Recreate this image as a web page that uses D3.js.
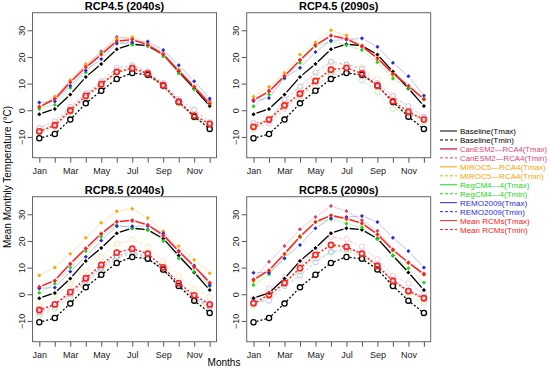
<html><head>
<script src="https://d3js.org/d3.v7.min.js"></script>
<style>
  body { margin: 0; background: #fff; }
  text { font-family: "Liberation Sans", Arial, sans-serif; }
</style>
</head>
<body>
<script>

// months and panels
var months = ["Jan","Feb","Mar","Apr","May","Jun","Jul","Aug","Sep","Oct","Nov","Dec"];
var panelTitles = ["RCP4.5 (2040s)", "RCP4.5 (2090s)", "RCP8.5 (2040s)", "RCP8.5 (2090s)"];
var yTicks = [-10, 0, 10, 20, 30];

// baseline (same in every panel)
var baseMax = [-1.5, 0.5, 5.9, 12.5, 17.4, 22.9, 24.8, 24.2, 20.9, 14.5, 8.2, 1.6];
var baseMin = [-10.5, -8.9, -3.5, 2.6, 7.3, 11.7, 14.0, 13.3, 9.3, 3.1, -2.4, -7.0];

// one row per panel: 4.5/2040s, 4.5/2090s, 8.5/2040s, 8.5/2090s
var canMax = [
  [1.3, 4.6, 11.2, 16.8, 22.1, 27.5, 26.8, 24.9, 21.5, 15.2, 8.8, 3.6],
  [4.0, 7.5, 13.0, 19.0, 24.6, 28.0, 26.8, 23.8, 19.0, 13.4, 9.0, 4.0],
  [2.5, 5.0, 11.2, 17.2, 22.5, 27.2, 27.5, 26.0, 21.9, 15.9, 10.0, 4.0],
  [5.6, 12.2, 18.1, 24.4, 29.0, 33.1, 31.2, 27.8, 23.8, 16.9, 11.9, 7.8]];
var canMin = [
  [-8.5, -6.3, -0.9, 4.8, 9.3, 14.2, 15.3, 13.0, 8.8, 2.8, -2.6, -5.5],
  [-6.6, -5.0, 0.5, 5.5, 9.0, 13.4, 14.2, 12.8, 8.8, 2.8, -1.6, -2.9],
  [-7.2, -5.0, -0.2, 5.0, 9.8, 14.0, 15.6, 13.5, 9.0, 3.5, -1.5, -4.8],
  [-1.6, 2.2, 6.5, 12.0, 16.0, 21.5, 20.6, 17.9, 13.1, 6.9, 4.1, 0.3]];
var mirMax = [
  [1.5, 5.2, 11.2, 17.4, 21.5, 26.8, 27.5, 25.2, 21.2, 15.2, 9.0, 3.0],
  [5.2, 8.8, 14.1, 20.9, 25.5, 30.0, 28.1, 24.2, 19.2, 13.0, 8.8, 4.2],
  [7.1, 10.0, 15.2, 21.2, 26.8, 31.1, 32.1, 28.6, 23.6, 18.1, 12.9, 7.9],
  [4.9, 8.6, 14.8, 21.4, 27.2, 29.4, 28.0, 26.4, 22.2, 16.4, 11.6, 7.3]];
var mirMin = [
  [-7.5, -5.2, 0.5, 5.8, 10.2, 15.0, 16.4, 14.0, 9.6, 3.5, -1.5, -4.8],
  [-5.4, -2.9, 2.8, 7.8, 12.8, 17.1, 17.1, 16.2, 11.8, 5.9, 0.2, -3.5],
  [-4.4, -0.6, 3.8, 8.8, 14.0, 18.9, 20.5, 17.8, 12.5, 7.0, 2.2, -1.0],
  [-3.8, -0.8, 4.0, 9.5, 14.5, 18.0, 17.0, 14.5, 10.0, 4.5, 0.6, -2.0]];
var regMax = [
  [0.5, 2.1, 8.4, 14.2, 21.5, 25.5, 24.6, 24.1, 20.2, 13.8, 7.8, 2.4],
  [1.5, 5.9, 11.9, 17.8, 24.0, 25.8, 24.4, 22.6, 18.0, 11.9, 8.4, 4.0],
  [0.6, 4.0, 10.0, 16.2, 21.6, 25.9, 24.8, 24.1, 20.0, 13.5, 8.5, 3.1],
  [3.5, 7.5, 13.5, 21.9, 27.1, 28.1, 26.5, 25.0, 20.6, 14.6, 9.8, 4.4]];
var regMin = [
  [-8.2, -6.0, -0.8, 4.9, 9.2, 14.0, 15.5, 13.4, 9.0, 2.5, -2.9, -5.8],
  [-7.2, -3.5, 1.1, 5.0, 10.6, 14.0, 15.2, 11.2, 6.9, 0.5, -1.0, -4.4],
  [-8.1, -5.6, -1.0, 4.4, 9.0, 13.5, 15.2, 13.1, 8.8, 3.1, -1.9, -5.0],
  [-4.4, -0.6, 3.8, 8.8, 13.5, 15.6, 16.2, 14.0, 9.4, 3.1, -1.0, -3.1]];
var remMax = [
  [2.9, 3.4, 9.2, 14.9, 19.2, 25.0, 25.5, 25.8, 22.6, 16.9, 10.9, 4.4],
  [3.5, 4.6, 12.1, 15.9, 21.9, 26.2, 26.5, 27.0, 23.8, 17.8, 12.8, 5.5],
  [2.2, 2.5, 8.5, 14.1, 20.2, 25.5, 25.5, 25.6, 22.9, 16.2, 10.8, 3.4],
  [8.1, 8.1, 13.5, 18.5, 24.8, 28.5, 29.0, 29.4, 27.1, 21.2, 16.2, 10.0]];
var remMin = [
  [-6.6, -4.2, 1.2, 6.4, 10.9, 15.9, 16.9, 14.6, 10.2, 4.2, 0.2, -4.5],
  [-4.8, -4.1, 4.0, 8.8, 14.1, 18.2, 17.1, 15.5, 10.2, 5.2, 1.5, -2.5],
  [-6.6, -4.0, 0.2, 5.2, 10.0, 14.4, 16.2, 13.8, 9.1, 3.8, -1.2, -4.4],
  [-3.0, -2.4, 3.0, 7.0, 12.0, 16.0, 17.0, 15.5, 11.0, 5.5, 1.5, -1.0]];
var meanMax = [
  [1.2, 4.2, 10.5, 16.1, 20.9, 26.0, 26.5, 24.5, 20.9, 14.8, 8.8, 2.5],
  [3.8, 7.0, 12.8, 18.8, 24.4, 28.0, 26.8, 24.0, 19.6, 13.8, 9.2, 4.2],
  [2.8, 5.2, 11.5, 17.2, 22.8, 27.2, 27.8, 26.0, 22.2, 16.2, 10.5, 4.4],
  [5.4, 9.0, 15.2, 21.6, 27.1, 29.6, 28.4, 26.6, 22.5, 16.6, 11.9, 7.5]];
var meanMin = [
  [-7.9, -5.6, -0.1, 5.4, 9.8, 14.4, 15.8, 13.8, 9.4, 3.2, -2.0, -5.1],
  [-6.2, -3.5, 1.8, 6.2, 11.0, 15.2, 15.9, 13.8, 9.2, 3.4, -0.6, -3.5],
  [-5.9, -3.8, 0.8, 6.0, 11.0, 15.6, 17.1, 15.2, 10.1, 4.2, -0.4, -3.8],
  [-3.4, -0.2, 4.2, 9.8, 14.8, 18.5, 17.8, 15.2, 10.6, 5.0, 1.2, -1.5]];

var colCan = "#dd3f78", colMir = "#ffa500", colReg = "#1ed61e", colRem = "#2b2bdd", colMean = "#ff2020";

let width = 550, height = 371;
let svg = d3.select("body").append("svg").attr("width", width).attr("height", height);

let panelW = 184, panelH = 145;
let lefts = [32.5, 246.7], tops = [12.7, 196.7];

// R style type="b": line segments with a gap around each point
function drawB(g, x, y, vals, color, lw, dash, opacity) {
  let gap = 3.2;
  for (let i = 0; i < vals.length - 1; i++) {
    let x1 = x(i + 1), y1 = y(vals[i]), x2 = x(i + 2), y2 = y(vals[i + 1]);
    let len = Math.hypot(x2 - x1, y2 - y1);
    if (len <= 2 * gap) continue;
    let ux = (x2 - x1) / len, uy = (y2 - y1) / len;
    g.append("line")
      .attr("x1", x1 + ux * gap).attr("y1", y1 + uy * gap)
      .attr("x2", x2 - ux * gap).attr("y2", y2 - uy * gap)
      .attr("stroke", color).attr("stroke-width", lw)
      .attr("stroke-opacity", opacity)
      .attr("stroke-dasharray", dash);
  }
}

function drawStars(g, x, y, vals, color) {
  vals.forEach(function(v, i) {
    let s = g.append("g").attr("transform", "translate(" + x(i + 1) + "," + y(v) + ")");
    s.append("circle").attr("r", 1.5).attr("fill", color);
    s.append("path").attr("d", "M-1.9,0H1.9M0,-1.9V1.9")
      .attr("stroke", color).attr("stroke-width", 0.8);
  });
}

function drawRings(g, x, y, vals, color, lw, opacity) {
  vals.forEach(function(v, i) {
    g.append("circle").attr("cx", x(i + 1)).attr("cy", y(v)).attr("r", 2.6)
      .attr("fill", "none").attr("stroke", color).attr("stroke-width", lw).attr("stroke-opacity", opacity);
  });
}

panelTitles.forEach(function(title, p) {
  let left = lefts[p % 2], top = tops[Math.floor(p / 2)];
  let x = d3.scaleLinear().domain([0.56, 12.44]).range([left, left + panelW]);
  let y = d3.scaleLinear().domain([-17.8, 36.6]).range([top + panelH, top]);
  let g = svg.append("g");

  // axes
  let yAxis = d3.axisLeft(y).tickValues(yTicks).tickSize(5).tickPadding(3);
  let ya = svg.append("g").attr("transform", "translate(" + left + ",0)").call(yAxis);
  ya.select(".domain").remove();
  ya.selectAll(".tick line").attr("stroke", "#555");
  ya.selectAll(".tick text")
    .attr("font-size", 9).attr("fill", "#222")
    .attr("text-anchor", "middle").attr("dy", 0)
    .attr("transform", "translate(-8,0) rotate(-90)")
    .attr("x", 0).attr("y", 0);

  let xAxis = d3.axisBottom(x).tickValues(d3.range(1, 13)).tickSize(5).tickPadding(5)
    .tickFormat(function(d) { return d % 2 == 1 ? months[d - 1] : ""; });
  let xa = svg.append("g").attr("transform", "translate(0," + (top + panelH) + ")").call(xAxis);
  xa.select(".domain").remove();
  xa.selectAll(".tick line").attr("stroke", "#555");
  xa.selectAll(".tick text").attr("font-size", 9).attr("fill", "#222");

  // frame
  svg.append("rect").attr("x", left).attr("y", top).attr("width", panelW).attr("height", panelH)
    .attr("fill", "none").attr("stroke", "#666").attr("stroke-width", 1);

  svg.append("text").attr("x", left + panelW / 2).attr("y", top - 3)
    .attr("text-anchor", "middle").attr("font-size", 11).attr("font-weight", "bold")
    .text(title);

  // models, faded lines
  let models = [[canMax, canMin, colCan], [mirMax, mirMin, colMir], [regMax, regMin, colReg], [remMax, remMin, colRem]];
  models.forEach(function(m) {
    drawB(g, x, y, m[0][p], m[2], 1, null, 0.3);
    drawB(g, x, y, m[1][p], m[2], 1, "3,2", 0.3);
  });
  models.forEach(function(m) {
    drawRings(g, x, y, m[1][p], m[2], 0.9, 0.3);
  });

  // baseline
  drawB(g, x, y, baseMax, "#000", 1.3, null, 1);
  drawB(g, x, y, baseMin, "#000", 1.3, "2,2", 1);
  drawRings(g, x, y, baseMin, "#000", 1.3, 1);
  drawStars(g, x, y, baseMax, "#000");

  models.forEach(function(m) {
    drawStars(g, x, y, m[0][p], m[2]);
  });

  // mean of RCMs
  drawB(g, x, y, meanMax[p], colMean, 1.5, null, 1);
  drawB(g, x, y, meanMin[p], colMean, 1.5, "2,2", 1);
  drawRings(g, x, y, meanMin[p], colMean, 1.6, 1);
  drawStars(g, x, y, meanMax[p], colMean);
});

// axis titles
svg.append("text").attr("transform", "translate(11,177) rotate(-90)")
  .attr("text-anchor", "middle").attr("font-size", 10).text("Mean Monthly Temperature (°C)");
svg.append("text").attr("x", 224).attr("y", 366)
  .attr("text-anchor", "middle").attr("font-size", 10).text("Months");

// legend
var legendLabels = ["Baseline(Tmax)", "Baseline(Tmin)", "CanESM2\u2014RCA4(Tmax)", "CanESM2\u2014RCA4(Tmin)",
  "MIROC5\u2014RCA4(Tmax)", "MIROC5\u2014RCA4(Tmin)", "RegCM4\u20144(Tmax)", "RegCM4\u20144(Tmin)",
  "REMO2009(Tmax)", "REMO2009(Tmin)", "Mean RCMs(Tmax)", "Mean RCMs(Tmin)"];
var legendColors = ["#000", "#000", colCan, colCan, colMir, colMir, colReg, colReg, colRem, colRem, colMean, colMean];

legendLabels.forEach(function(lab, i) {
  let ly = 131 + i * 8.96;
  svg.append("line").attr("x1", 440).attr("x2", 457).attr("y1", ly).attr("y2", ly)
    .attr("stroke", legendColors[i]).attr("stroke-width", i == 2 ? 1.6 : 1)
    .attr("stroke-dasharray", i % 2 == 1 ? "3,2" : null);
  let t = svg.append("text").attr("x", 460).attr("y", ly + 3).attr("font-size", 8)
    .attr("fill", legendColors[i]).text(lab);
  // keep the long labels inside the window
  let w = t.node().getComputedTextLength();
  if (w > 87) t.attr("textLength", 87).attr("lengthAdjust", "spacingAndGlyphs");
});

</script>
</body>
</html>
